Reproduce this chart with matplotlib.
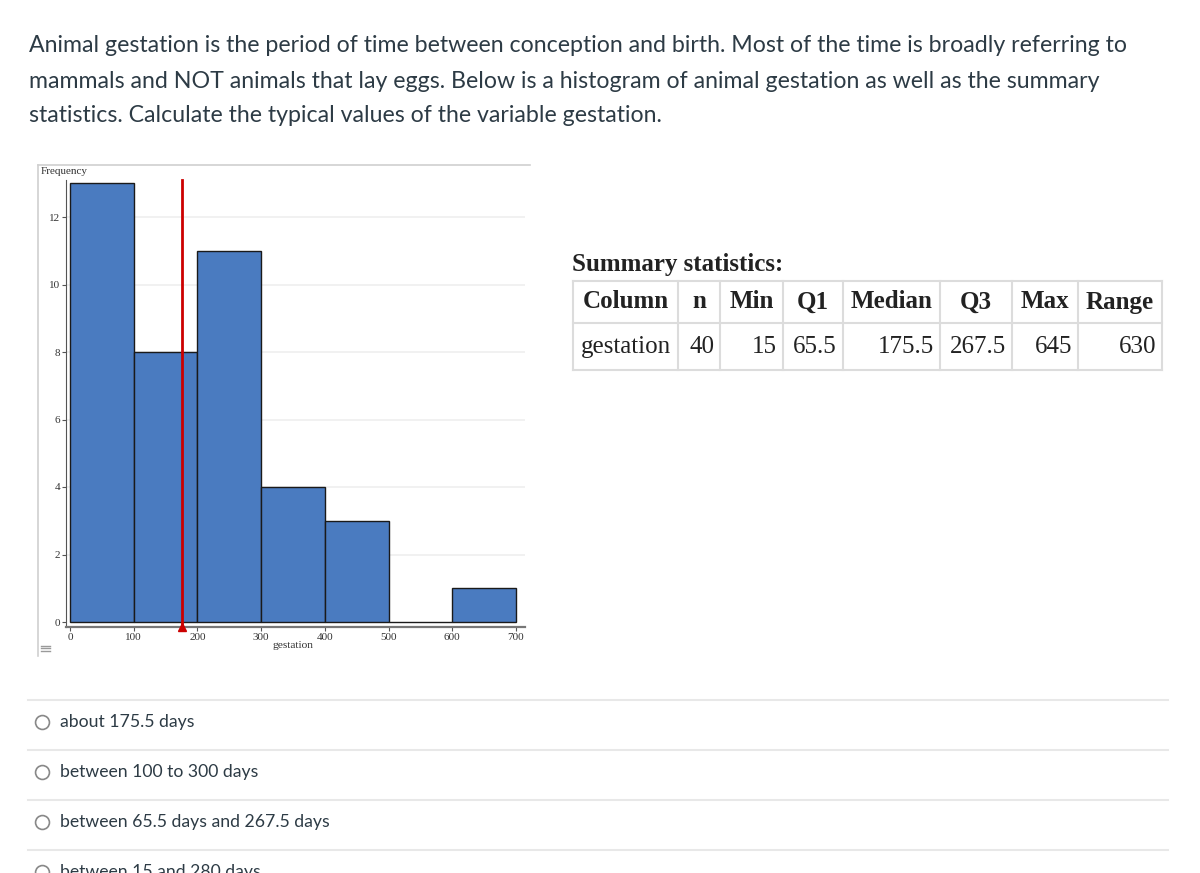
import matplotlib.pyplot as plt
from matplotlib.lines import Line2D

# ------------------------------------------------------------
# data
# ------------------------------------------------------------
bin_edges = [0, 100, 200, 300, 400, 500, 600, 700]
counts = [13, 8, 11, 4, 3, 0, 1]
median_line = 175.5

question = [
    "Animal gestation is the period of time between conception and birth. Most of the time is broadly referring to",
    "mammals and NOT animals that lay eggs. Below is a histogram of animal gestation as well as the summary",
    "statistics. Calculate the typical values of the variable gestation.",
]

table_header = ["Column", "n", "Min", "Q1", "Median", "Q3", "Max", "Range"]
table_row = ["gestation", "40", "15", "65.5", "175.5", "267.5", "645", "630"]

options = [
    "about 175.5 days",
    "between 100 to 300 days",
    "between 65.5 days and 267.5 days",
    "between 15 and 280 days",
]

W, H = 1200, 873
fig = plt.figure(figsize=(W / 100, H / 100), dpi=100)
fig.patch.set_facecolor('white')

# overlay in pixel coords for the page
page = fig.add_axes([0, 0, 1, 1])
page.set_xlim(0, W)
page.set_ylim(H, 0)
page.axis('off')

text_col = '#2d3b45'
lato = ['Lato', 'DejaVu Sans']
serif = ['Liberation Serif', 'DejaVu Serif']

# question text
for i, line in enumerate(question):
    page.text(29, 46 + 35 * i, line, fontsize=16.7, family=lato, color=text_col,
              va='center', ha='left')

# chart frame (light gray)
page.add_line(Line2D([38, 530], [165, 165], color='#d0d0d0', lw=1.2))
page.add_line(Line2D([38, 38], [165, 656], color='#d0d0d0', lw=1.2))
page.text(41, 172, "Frequency", fontsize=8, family=serif, color='#333333', va='center')
page.text(293, 646, "gestation", fontsize=8.2, family=serif, color='#333333',
          va='center', ha='center')
# menu icon
for dy in (-2.5, 0, 2.5):
    page.add_line(Line2D([41, 50], [648 + dy, 648 + dy], color='#9a9a9a', lw=1))

# ------------------------------------------------------------
# histogram
# ------------------------------------------------------------
x0, x700, y0, y12 = 70, 516, 622, 217
sx = (x700 - x0) / 700
sy = (y0 - y12) / 12
axl, axr, axt, axb = 66, 525, 180, 627
ax = fig.add_axes([axl / W, 1 - axb / H, (axr - axl) / W, (axb - axt) / H])
ax.set_xlim((axl - x0) / sx, (axr - x0) / sx)
ax.set_ylim(-(axb - y0) / sy, (y0 - axt) / sy)

for yv in range(2, 14, 2):
    ax.axhline(yv, color='#efefef', lw=1.2, zorder=0)

ax.bar(bin_edges[:-1], counts, width=100, align='edge', color='#4a7bc0',
       edgecolor='#1a1a1a', linewidth=1.0, zorder=2)

ax.plot([median_line, median_line], [ax.get_ylim()[0], 13.1], color='#cc0000',
        lw=2, zorder=3, clip_on=False)
ax.plot([median_line], [ax.get_ylim()[0]], marker='^', color='#cc0000',
        markersize=6, zorder=4, clip_on=False)

for s in ['top', 'right']:
    ax.spines[s].set_visible(False)
ax.spines['left'].set_color('#555555')
ax.spines['bottom'].set_color('#777777')
ax.spines['bottom'].set_linewidth(1.6)
ax.set_yticks(range(0, 13, 2))
ax.set_xticks(range(0, 701, 100))
ax.tick_params(axis='both', labelsize=8, length=3, width=0.8, color='#555555',
               labelcolor='#333333', pad=1)
for lbl in ax.get_xticklabels() + ax.get_yticklabels():
    lbl.set_family(serif)
ax.patch.set_alpha(0)

# ------------------------------------------------------------
# summary table
# ------------------------------------------------------------
fs_tab = 18
page.text(572, 265, "Summary statistics:", fontsize=fs_tab, family=serif, weight='bold',
          color='#222222', va='center')
col_x = [573, 678, 720, 783, 843, 940, 1012, 1078, 1162]
row_y = [281, 323, 370]
grid_c = '#dcdcdc'
for yy in row_y:
    page.add_line(Line2D([col_x[0], col_x[-1]], [yy, yy], color=grid_c, lw=1.5))
for xx in col_x:
    page.add_line(Line2D([xx, xx], [row_y[0], row_y[-1]], color=grid_c, lw=1.5))
for j, h in enumerate(table_header):
    page.text((col_x[j] + col_x[j + 1]) / 2, 302, h, fontsize=fs_tab, family=serif,
              weight='bold', color='#222222', ha='center', va='center')
for j, v in enumerate(table_row):
    if j == 0:
        page.text(col_x[j] + 8, 347, v, fontsize=fs_tab, family=serif, color='#222222',
                  ha='left', va='center')
    else:
        page.text(col_x[j + 1] - 6, 347, v, fontsize=fs_tab, family=serif, color='#222222',
                  ha='right', va='center')

# ------------------------------------------------------------
# answer options
# ------------------------------------------------------------
for i, opt in enumerate(options):
    yy = 722 + 50 * i
    page.add_line(Line2D([28, 1168], [yy - 22, yy - 22], color='#e8e8e8', lw=1.5))
    page.plot([42], [yy], marker='o', markersize=10, markerfacecolor='white',
              markeredgecolor='#888888', markeredgewidth=1.2)
    page.text(60, yy, opt, fontsize=12.7, family=lato, color=text_col, va='center')

fig.savefig('out.png', dpi=100)
